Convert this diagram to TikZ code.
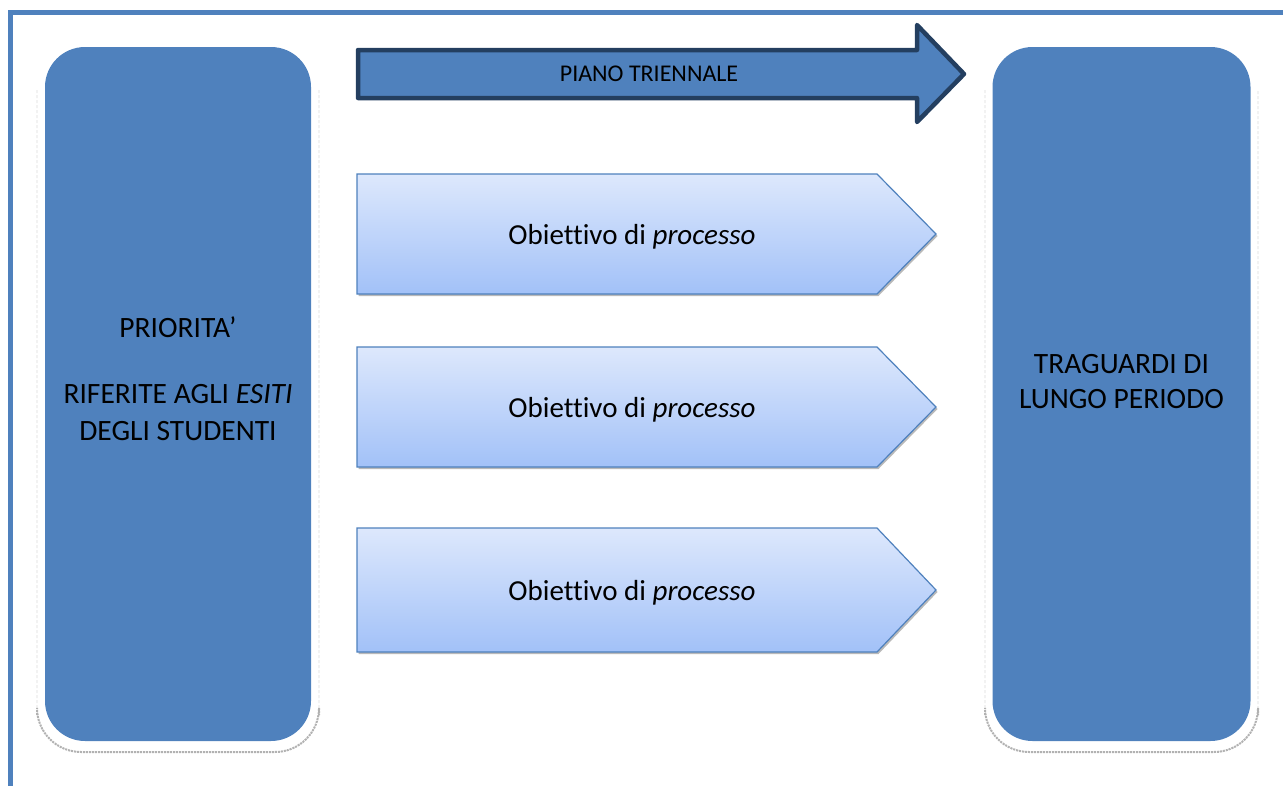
\documentclass[tikz,border=0pt]{standalone}
\usepackage{fontspec}
\setmainfont{Carlito}[Ligatures=CommonOff]
\definecolor{boxblue}{RGB}{79,129,189}
\definecolor{arrowdark}{RGB}{36,63,96}
\definecolor{chevtop}{RGB}{221,232,252}
\definecolor{chevbottom}{RGB}{162,193,248}

\tikzset{
	bluebox/.style={rectangle, rounded corners=40pt, fill=boxblue, inner sep=0pt},
	boxtext/.style={align=center, inner sep=0pt, font=\fontsize{29.5}{37}\selectfont},
	chevtext/.style={inner sep=0pt, font=\fontsize{29}{35}\selectfont},
}

\newcommand{\chevron}[3]{

\begin{scope}[shift={#1}]
	\fill[gray!55] (1.5,-#2+2) -- (521.5,-#2+2) -- (580.5,2) -- (521.5,#2+2) -- (1.5,#2+2) -- cycle;
	\draw[boxblue, line width=1.2pt, top color=chevtop, bottom color=chevbottom] (0,-#2) -- (520,-#2) -- (579,0) -- (520,#2) -- (0,#2) -- cycle;
	\node[chevtext] (#3) at (275,3) {Obiettivo di \textit{processo}};
\end{scope}

}

\begin{document}
\begin{tikzpicture}[x=1pt, y=-1pt]

	\useasboundingbox (0,0) rectangle (1283,785);
	\clip (0,0) rectangle (1283,785);

	% frame
	\draw[boxblue, line width=4.5pt] (10.5,800) -- (10.5,12.5) -- (1300,12.5);

	% rims
	\foreach \l/\r in {37/319, 985/1258}
	{
		\draw[gray!30, densely dashed, line width=0.6pt, rounded corners=44pt] (\l,90) -- (\l,752) -- (\r,752) -- (\r,90);
		\draw[gray!60, densely dotted, line width=2pt, rounded corners=44pt] (\l,715) -- (\l,752) -- (\r,752) -- (\r,715);
	} %end for \l

	\node[bluebox, minimum width=266pt, minimum height=694pt] (prio) at (178,394) {};
	\node[bluebox, minimum width=258pt, minimum height=694pt] (trag) at (1121.5,394) {};

	\node[boxtext] (priotext) at (178,379) {PRIORITA’\\[29pt] RIFERITE AGLI \textit{ESITI}\\ DEGLI STUDENTI};
	\node[boxtext, font=\fontsize{29.5}{35}\selectfont] (tragtext) at (1121.5,382) {TRAGUARDI DI\\ LUNGO PERIODO};

	% arrow
	\draw[arrowdark, fill=boxblue, line width=4.5pt, line join=round] (358,50) -- (917,50) -- (917,25) -- (964,74) -- (917,122) -- (917,98) -- (358,98) -- cycle;
	\node[inner sep=0pt, font=\fontsize{24}{28}\selectfont] (piano) at (649,74) {PIANO TRIENNALE};

	\chevron{(357,234)}{60}{ob1}
	\chevron{(357,407)}{60}{ob2}
	\chevron{(357,590)}{62}{ob3}

\end{tikzpicture}
\end{document}
